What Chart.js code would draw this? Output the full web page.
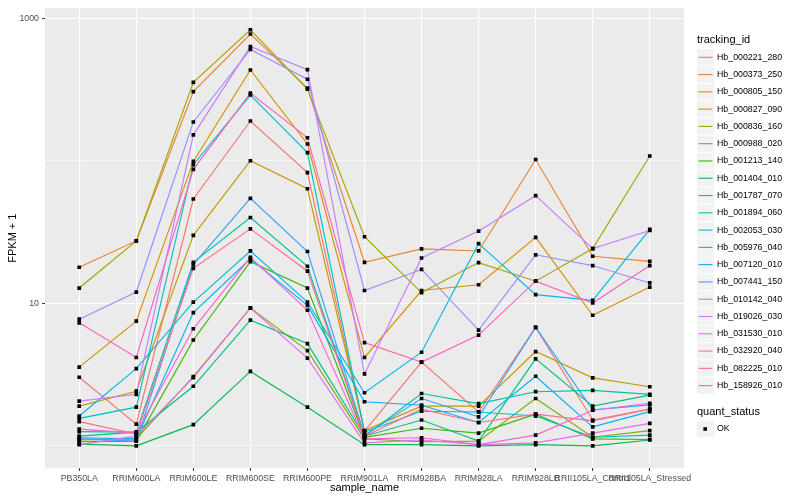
<!DOCTYPE html>
<html>
<head>
<meta charset="utf-8">
<script src="https://cdn.jsdelivr.net/npm/chart.js@4.4.1/dist/chart.umd.min.js"></script>
<style>
  html, body { margin: 0; padding: 0; background: #fff; }
  #wrap { width: 800px; height: 500px; }
</style>
</head>
<body>
<div id="wrap"><canvas id="chart" width="800" height="500"></canvas></div>
<script>
// samples on the x axis
const samples = ["PB350LA", "RRIM600LA", "RRIM600LE", "RRIM600SE", "RRIM600PE", "RRIM901LA",
  "RRIM928BA", "RRIM928LA", "RRIM928LB", "RRII105LA_Control", "RRII105LA_Stressed"];

// FPKM + 1, one array per tracking_id
const hb000221_280 = [3.03, 1.42, 53.9, 190, 82.5, 1.27, 3.87, 1.73, 6.78, 1.52, 1.81];
const hb000373_250 = [17.9, 27.4, 305, 774, 323, 19.4, 24.1, 23.3, 102, 21.4, 19.7];
const hb000805_150 = [3.57, 7.5, 98.9, 433, 131, 4.17, 12.3, 13.5, 29.0, 8.25, 13.0];
const hb000827_090 = [1.9, 2.42, 30.0, 100, 63.6, 1.28, 1.9, 1.9, 4.59, 3.0, 2.6];
const hb000836_160 = [12.8, 27.4, 355, 829, 318, 29.3, 11.9, 19.3, 14.3, 24.2, 108];
const hb000988_020 = [1.10, 1.12, 3.06, 9.28, 4.66, 1.12, 1.07, 1.08, 2.15, 1.15, 1.28];
const hb001213_140 = [1.07, 1.08, 5.53, 19.6, 12.8, 1.15, 1.33, 1.23, 1.67, 1.12, 1.11];
const hb001404_010 = [1.03, 1.0, 1.41, 3.33, 1.87, 1.02, 1.02, 1.0, 1.02, 1.0, 1.1];
const hb001787_070 = [1.17, 1.25, 2.62, 7.62, 5.22, 1.17, 1.52, 1.08, 4.08, 1.9, 2.27];
const hb001894_060 = [1.26, 1.25, 19.4, 40.0, 18.2, 1.17, 2.33, 1.98, 2.40, 2.45, 2.30];
const hb002053_030 = [1.56, 1.87, 93.8, 289, 114, 1.25, 1.75, 1.73, 1.62, 1.15, 1.19];
const hb005976_040 = [1.62, 3.48, 10.2, 23.3, 10.2, 2.36, 4.54, 26.2, 11.5, 10.5, 33.0];
const hb007120_010 = [1.14, 1.12, 8.61, 20.5, 9.68, 2.04, 1.93, 1.46, 3.08, 1.36, 1.74];
const hb007441_150 = [1.12, 1.08, 18.7, 54.4, 23.1, 1.19, 2.15, 1.6, 6.78, 1.79, 1.94];
const hb010142_040 = [7.74, 12.0, 187, 603, 373, 12.3, 17.3, 6.49, 21.9, 18.4, 13.9];
const hb019026_030 = [2.06, 2.3, 152, 632, 435, 3.2, 20.8, 32.1, 56.9, 24.2, 32.4];
const hb031530_010 = [1.02, 1.17, 3.01, 9.28, 4.13, 1.05, 1.1, 1.02, 1.05, 1.23, 1.44];
const hb032920_040 = [1.31, 1.23, 6.63, 21.0, 8.94, 1.12, 1.14, 1.02, 1.19, 1.78, 1.99];
const hb082225_010 = [7.3, 4.17, 87, 298, 145, 5.3, 3.87, 5.99, 14.3, 10.05, 18.4];
const hb158926_010 = [1.48, 1.21, 17.6, 33.3, 16.8, 1.17, 1.81, 1.46, 1.67, 1.5, 1.81];

const trackingIds = ["Hb_000221_280", "Hb_000373_250", "Hb_000805_150", "Hb_000827_090",
  "Hb_000836_160", "Hb_000988_020", "Hb_001213_140", "Hb_001404_010", "Hb_001787_070",
  "Hb_001894_060", "Hb_002053_030", "Hb_005976_040", "Hb_007120_010", "Hb_007441_150",
  "Hb_010142_040", "Hb_019026_030", "Hb_031530_010", "Hb_032920_040", "Hb_082225_010",
  "Hb_158926_010"];
const seriesValues = [hb000221_280, hb000373_250, hb000805_150, hb000827_090, hb000836_160,
  hb000988_020, hb001213_140, hb001404_010, hb001787_070, hb001894_060, hb002053_030,
  hb005976_040, hb007120_010, hb007441_150, hb010142_040, hb019026_030, hb031530_010,
  hb032920_040, hb082225_010, hb158926_010];

// ggplot default hue palette, 20 levels
const colors = ["#F8766D", "#EA8331", "#D89000", "#C09B00", "#A3A500", "#7CAE00", "#39B600",
  "#00BB4E", "#00BF7D", "#00C1A3", "#00BFC4", "#00BAE0", "#00B0F6", "#35A2FF", "#9590FF",
  "#C77CFF", "#E76BF3", "#FA62DB", "#FF62BC", "#FF6C91"];

const yBreaks = [1, 10, 100, 1000];
const yLabels = [10, 1000];

const FONT = "'Liberation Sans', Arial, Helvetica, sans-serif";
Chart.defaults.font.family = FONT;

// line datasets, later ids drawn on top (like ggplot)
const lineSets = seriesValues.map((vals, i) => ({
  label: trackingIds[i],
  data: vals.map((v, x) => ({ x: x, y: v })),
  borderColor: colors[i],
  backgroundColor: colors[i],
  borderWidth: 1.15,
  pointRadius: 0,
  fill: false,
  tension: 0,
  order: 21 - i
}));

// all points as one black layer on top
const pointSet = {
  label: "OK",
  data: seriesValues.flatMap(vals => vals.map((v, x) => ({ x: x, y: v }))),
  showLine: false,
  pointStyle: "rect",
  pointRadius: 2.6,
  pointBackgroundColor: "#000",
  pointBorderWidth: 0,
  order: 0
};

// grey panel, axis titles and ggplot-like legend
const ggPlugin = {
  id: "ggStyle",
  beforeDraw(chart) {
    const { ctx, chartArea: a } = chart;
    ctx.save();
    ctx.fillStyle = "#EBEBEB";
    ctx.fillRect(a.left, a.top, a.right - a.left, a.bottom - a.top);
    ctx.restore();
  },
  afterDraw(chart) {
    const { ctx, chartArea: a } = chart;
    ctx.save();
    ctx.fillStyle = "#000";
    ctx.textBaseline = "middle";
    ctx.textAlign = "center";
    ctx.font = "11px " + FONT;
    ctx.fillText("sample_name", (a.left + a.right) / 2, 488);
    ctx.save();
    ctx.translate(13, (a.top + a.bottom) / 2);
    ctx.rotate(-Math.PI / 2);
    ctx.fillText("FPKM + 1", 0, 0);
    ctx.restore();

    // legend: tracking_id
    ctx.textAlign = "left";
    ctx.fillText("tracking_id", 697, 40);
    ctx.font = "8.8px " + FONT;
    trackingIds.forEach((id, i) => {
      const cy = 57.3 + i * 17.28;
      ctx.fillStyle = "#F2F2F2";
      ctx.fillRect(697, cy - 8.1, 16.8, 16.3);
      ctx.strokeStyle = colors[i];
      ctx.lineWidth = 1.1;
      ctx.beginPath();
      ctx.moveTo(698.5, cy);
      ctx.lineTo(712.5, cy);
      ctx.stroke();
      ctx.fillStyle = "#000";
      ctx.fillText(id, 717, cy);
    });

    // legend: quant_status
    ctx.font = "11px " + FONT;
    ctx.fillText("quant_status", 697, 412);
    ctx.fillStyle = "#F2F2F2";
    ctx.fillRect(697, 429 - 8.1, 16.8, 16.3);
    ctx.fillStyle = "#000";
    ctx.fillRect(703.4, 427.2, 3.6, 3.6);
    ctx.font = "8.8px " + FONT;
    ctx.fillText("OK", 717, 429);
    ctx.restore();
  }
};

new Chart(document.getElementById("chart"), {
  type: "line",
  data: { datasets: [pointSet, ...lineSets] },
  plugins: [ggPlugin],
  options: {
    responsive: false,
    animation: false,
    layout: { padding: { left: 0, right: 116, top: 5, bottom: 0 } },
    plugins: {
      legend: { display: false },
      tooltip: { enabled: false }
    },
    scales: {
      x: {
        type: "linear",
        min: -0.6,
        max: 10.6,
        afterBuildTicks: (scale) => { scale.ticks = samples.map((s, i) => ({ value: i })); },
        afterFit: (scale) => { scale.height = 32; },
        border: { display: false },
        grid: { color: "#FFFFFF", lineWidth: 1.1, tickLength: 3, tickColor: "#333333", tickWidth: 1 },
        ticks: {
          autoSkip: false,
          maxRotation: 0,
          minRotation: 0,
          padding: 2,
          color: "#4D4D4D",
          font: { size: 8.8 },
          callback: (v) => samples[v]
        }
      },
      y: {
        type: "logarithmic",
        min: 0.715,
        max: 1173,
        afterBuildTicks: (scale) => { scale.ticks = yBreaks.map(v => ({ value: v })); },
        afterFit: (scale) => { scale.width = 45; },
        border: { display: false },
        grid: {
          color: "#FFFFFF",
          lineWidth: (c) => yLabels.includes(c.tick.value) ? 1.1 : 0.55,
          tickLength: 3,
          tickColor: (c) => yLabels.includes(c.tick.value) ? "#333333" : "rgba(0,0,0,0)",
          tickWidth: 1
        },
        ticks: {
          autoSkip: false,
          padding: 3,
          color: "#4D4D4D",
          font: { size: 8.8 },
          callback: (v) => yLabels.includes(v) ? String(v) : ""
        }
      }
    }
  }
});
</script>
</body>
</html>
